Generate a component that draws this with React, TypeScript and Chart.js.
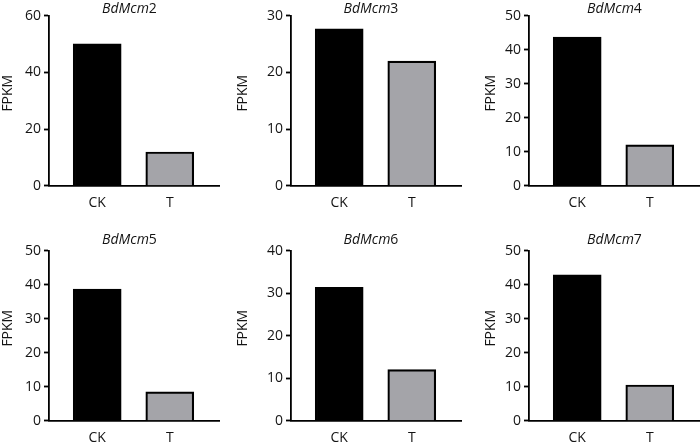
import React, { useEffect, useRef } from 'react';
import { Chart, registerables } from 'chart.js';

Chart.register(...registerables);

// ---- data ----
const categories = ['CK', 'T'];
const genePrefix = 'BdMcm';
const geneNumbers = ['2', '3', '4', '5', '6', '7'];
const ckValues = [50.1, 27.7, 43.7, 38.7, 31.4, 42.9];
const tValues = [11.9, 22.0, 12.0, 8.5, 12.0, 10.5];
const yMaxValues = [60, 30, 50, 50, 40, 50];
const yStepValues = [20, 10, 10, 10, 10, 10];
const yAxisTitle = 'FPKM';

// ---- layout ----
const FONT = '"Open Sans", "Noto Sans", sans-serif';
const TEXT = '#141414';
const colLeft = [0, 228, 458];
const colWidth = [240, 240, 242];
const colYAxisW = [49, 63, 71];
const colTitleDx = [-4.5, -5, 0.5];
const colYLabelOffset = [41, 47.5, 37.5];
const rowTop = [0, 225];
const rowHeight = [225, 221];
const rowPlotTop = [15.7, 25.7];
const rowTitleGap = [3, 6.5];
const PLOT_W = 170;
const PLOT_H = 170;

const panelText = {
  id: 'panelText',
  afterDraw(chart: any, _args: any, opts: any) {
    const { ctx, chartArea } = chart;
    ctx.save();
    ctx.fillStyle = TEXT;
    ctx.textBaseline = 'alphabetic';
    ctx.textAlign = 'left';
    const italic = `italic 14px ${FONT}`;
    const normal = `14px ${FONT}`;
    ctx.font = italic;
    const w1 = ctx.measureText(opts.prefix).width;
    ctx.font = normal;
    const w2 = ctx.measureText(opts.suffix).width;
    const cx = (chartArea.left + chartArea.right) / 2 + opts.titleDx;
    const x0 = cx - (w1 + w2) / 2;
    const ty = chartArea.top - opts.titleGap;
    ctx.font = italic;
    ctx.fillText(opts.prefix, x0, ty);
    ctx.font = normal;
    ctx.fillText(opts.suffix, x0 + w1, ty);

    ctx.translate(chartArea.left - opts.yLabelOffset, (chartArea.top + chartArea.bottom) / 2 - 7.5);
    ctx.rotate(-Math.PI / 2);
    ctx.textAlign = 'center';
    ctx.textBaseline = 'middle';
    ctx.font = normal;
    ctx.fillText(yAxisTitle, 0, 0);
    ctx.restore();
  },
};

function Panel({ idx }: { idx: number }) {
  const ref = useRef<HTMLCanvasElement>(null);
  const col = idx % 3;
  const row = Math.floor(idx / 3);
  const w = colWidth[col];
  const h = rowHeight[row];

  useEffect(() => {
    if (!ref.current) return;
    const values = [ckValues[idx], tValues[idx]];
    const yW = colYAxisW[col];
    const plotTop = rowPlotTop[row];
    const chart = new Chart(ref.current, {
      type: 'bar',
      data: {
        datasets: [
          {
            data: values.map((v, i) => ({ x: i, y: v })),
            backgroundColor: ['#000000', '#a4a4a9'],
            borderColor: '#000000',
            borderWidth: 2.2,
            barThickness: 48,
          },
        ],
      },
      options: {
        animation: false,
        responsive: false,
        layout: {
          padding: { left: 0, top: plotTop, right: w - yW - PLOT_W, bottom: 0 },
        },
        plugins: {
          legend: { display: false },
          tooltip: { enabled: false },
          title: { display: false },
          panelText: {
            prefix: genePrefix,
            suffix: geneNumbers[idx],
            titleDx: colTitleDx[col],
            titleGap: rowTitleGap[row],
            yLabelOffset: colYLabelOffset[col],
          },
        } as any,
        scales: {
          x: {
            type: 'linear',
            offset: false,
            bounds: 'data',
            min: -0.664,
            max: 1.678,
            grid: { display: false, offset: false },
            border: { display: true, color: '#000', width: 1.8 },
            afterBuildTicks: (scale: any) => {
              scale.ticks = categories.map((_, i) => ({ value: i }));
            },
            afterFit: (scale: any) => {
              scale.height = h - plotTop - PLOT_H;
            },
            ticks: {
              padding: 1,
              color: TEXT,
              font: { family: FONT, size: 14 },
              autoSkip: false,
              maxRotation: 0,
              callback: (v: any) => categories[v] ?? '',
            },
          },
          y: {
            min: 0,
            max: yMaxValues[idx],
            grid: {
              display: true,
              drawOnChartArea: false,
              drawTicks: true,
              tickLength: 5,
              tickColor: '#000',
              tickWidth: 1.8,
            },
            border: { display: true, color: '#000', width: 1.8 },
            afterFit: (scale: any) => {
              scale.width = yW;
            },
            ticks: {
              stepSize: yStepValues[idx],
              padding: 3,
              color: TEXT,
              font: { family: FONT, size: 14 },
            },
          },
        },
      } as any,
      plugins: [panelText as any],
    });
    return () => chart.destroy();
  }, [idx, w, h, col, row]);

  return (
    <canvas
      ref={ref}
      width={w}
      height={h}
      style={{ position: 'absolute', left: colLeft[col], top: rowTop[row], width: w, height: h }}
    />
  );
}

export default function App() {
  return (
    <div style={{ position: 'absolute', left: 0, top: 0, width: 700, height: 446, background: '#fff' }}>
      {geneNumbers.map((_, i) => (
        <Panel key={i} idx={i} />
      ))}
    </div>
  );
}
